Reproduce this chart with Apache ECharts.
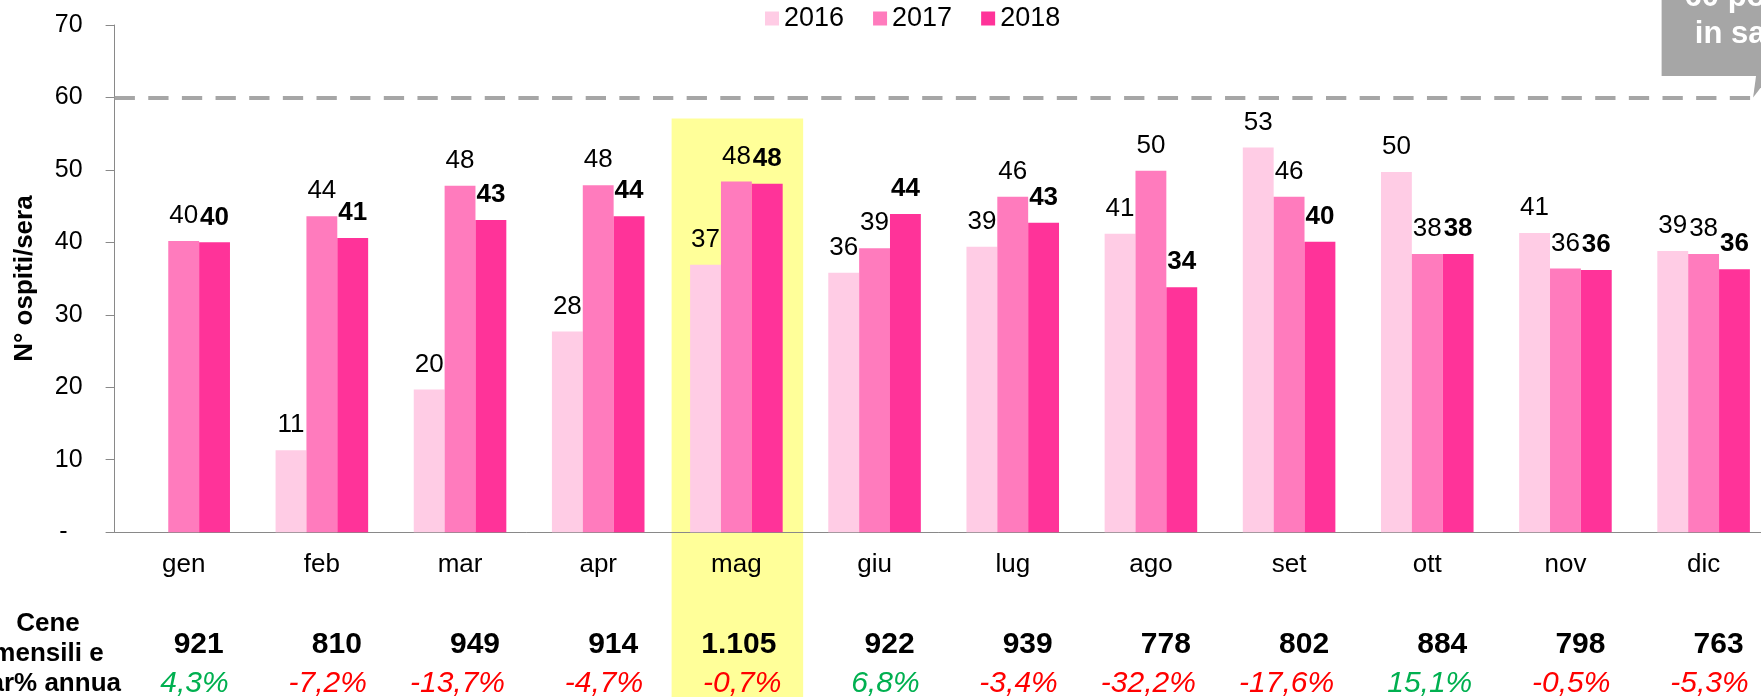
<!DOCTYPE html>
<html>
<head>
<meta charset="utf-8">
<script src="https://cdn.jsdelivr.net/npm/echarts@6/dist/echarts.min.js"></script>
<style>
  html, body { margin: 0; padding: 0; background: #fff; }
  #chart { width: 1761px; height: 697px; }
</style>
</head>
<body>
<div id="chart"></div>
<script>
const FONT = '"Liberation Sans", Arial, sans-serif';

// dati
const months = ['gen', 'feb', 'mar', 'apr', 'mag', 'giu', 'lug', 'ago', 'set', 'ott', 'nov', 'dic'];
const years = ['2016', '2017', '2018'];
const guests2016 = [null, 11.3, 19.7, 27.7, 36.9, 35.8, 39.4, 41.2, 53.1, 49.7, 41.3, 38.8];
const guests2017 = [40.2, 43.6, 47.8, 47.9, 48.4, 39.2, 46.3, 49.9, 46.3, 38.4, 36.4, 38.4];
const guests2018 = [40.0, 40.6, 43.1, 43.6, 48.1, 43.9, 42.7, 33.8, 40.1, 38.4, 36.2, 36.3];
const dinners = ['921', '810', '949', '914', '1.105', '922', '939', '778', '802', '884', '798', '763'];
const yearlyChange = [4.3, -7.2, -13.7, -4.7, -0.7, 6.8, -3.4, -32.2, -17.6, 15.1, -0.5, -5.3];
const capacity = 60;
const capacityText = '60 posti\nin sala';
const highlightMonth = 'mag';

const colors = ['#FFCCE5', '#FF7BBD', '#FF3399'];

function barSeries(name, data, color, bold) {
  return {
    name: name,
    type: 'bar',
    data: data,
    barGap: '0%',
    barCategoryGap: '33%',
    itemStyle: { color: color },
    label: {
      show: true,
      position: 'top',
      distance: 12,
      fontSize: 26,
      fontFamily: FONT,
      color: '#000',
      fontWeight: bold ? 'bold' : 'normal',
      formatter: p => String(Math.round(p.value))
    }
  };
}

const pct = v => v.toFixed(1).replace('.', ',') + '%';

const series = [
  barSeries(years[0], guests2016, colors[0], false),
  barSeries(years[1], guests2017, colors[1], false),
  barSeries(years[2], guests2018, colors[2], true)
];
series[2].markLine = {
  silent: true,
  symbol: 'none',
  label: { show: false },
  lineStyle: { color: '#A6A6A6', width: 4, type: [20.3, 13.35] },
  data: [{ yAxis: capacity }]
};

const option = {
  animation: false,
  textStyle: { fontFamily: FONT },
  grid: { left: 114.6, right: -11.7, top: 25, bottom: 164.8, outerBoundsMode: 'none', containLabel: false },
  legend: {
    data: years,
    left: 765,
    top: 5,
    padding: 0,
    itemWidth: 14,
    itemHeight: 14,
    itemGap: 29,
    icon: 'rect',
    textStyle: { fontSize: 27, color: '#000', fontFamily: FONT }
  },
  xAxis: [
    {
      type: 'category',
      data: months,
      axisLine: { lineStyle: { color: '#898989', width: 1 } },
      axisTick: { length: 8, lineStyle: { color: '#898989' } },
      axisLabel: { interval: 0, fontSize: 26, color: '#000', margin: 20, fontFamily: FONT }
    },
    {
      type: 'category',
      data: months,
      position: 'bottom',
      axisLine: { show: false },
      axisTick: { show: false },
      axisLabel: {
        interval: 0,
        margin: 98,
        formatter: (v, i) => '{n|' + dinners[i] + '}',
        rich: { n: { width: 80, align: 'right', fontSize: 30, fontWeight: 'bold', color: '#000', fontFamily: FONT } }
      }
    },
    {
      type: 'category',
      data: months,
      position: 'bottom',
      axisLine: { show: false },
      axisTick: { show: false },
      axisLabel: {
        interval: 0,
        margin: 136,
        formatter: (v, i) => (yearlyChange[i] > 0 ? '{g|' : '{r|') + pct(yearlyChange[i]) + '}',
        rich: {
          g: { width: 90, align: 'right', fontSize: 30, fontStyle: 'italic', color: '#00B050', fontFamily: FONT },
          r: { width: 90, align: 'right', fontSize: 30, fontStyle: 'italic', color: '#FF0000', fontFamily: FONT }
        }
      }
    }
  ],
  yAxis: {
    type: 'value',
    min: 0,
    max: 70,
    interval: 10,
    splitLine: { show: false },
    axisLine: { show: true, lineStyle: { color: '#898989', width: 1 } },
    axisTick: { show: true, length: 9, lineStyle: { color: '#898989' } },
    axisLabel: {
      fontSize: 25,
      color: '#000',
      margin: 32,
      fontFamily: FONT,
      formatter: v => (v === 0 ? '{z|-}' : String(v)),
      rich: { z: { fontSize: 25, color: '#000', padding: [0, 15, 0, 0], fontFamily: FONT } }
    },
    name: 'N° ospiti/sera',
    nameLocation: 'middle',
    nameGap: 77,
    nameTextStyle: { fontSize: 26, fontWeight: 'bold', color: '#000', fontFamily: FONT }
  },
  series: series
};

const chart = echarts.init(document.getElementById('chart'));
chart.setOption(option);

// evidenziazione mese, riquadro capienza, intestazione tabella
const cx = chart.convertToPixel({ xAxisIndex: 0 }, highlightMonth);
const band = chart.convertToPixel({ xAxisIndex: 0 }, months[1]) - chart.convertToPixel({ xAxisIndex: 0 }, months[0]);
const yTop = chart.convertToPixel({ yAxisIndex: 0 }, 57.1);
const yCap = chart.convertToPixel({ yAxisIndex: 0 }, capacity);
const xLast = chart.convertToPixel({ xAxisIndex: 0 }, months[months.length - 1]);

chart.setOption({
  graphic: [
    {
      type: 'rect',
      z: -10,
      silent: true,
      shape: { x: cx - band * 0.476 + 1, y: yTop, width: band * 0.952, height: 697 - yTop },
      style: { fill: '#FFFF99' }
    },
    {
      type: 'rect',
      z: 10,
      silent: true,
      shape: { x: xLast - 42, y: -60, width: 200, height: yCap - 21.5 + 60 },
      style: { fill: '#A6A6A6' }
    },
    {
      type: 'polygon',
      z: 10,
      silent: true,
      shape: { points: [[xLast + 52.5, yCap - 22], [xLast + 49.5, yCap], [xLast + 66.5, yCap - 22]] },
      style: { fill: '#A6A6A6' }
    },
    {
      type: 'text',
      z: 11,
      silent: true,
      style: {
        text: capacityText,
        x: xLast + 39.5,
        y: yCap - 82,
        align: 'center', verticalAlign: 'middle',
        textAlign: 'center', textVerticalAlign: 'middle',
        lineHeight: 37,
        font: 'bold 31px ' + FONT,
        fill: '#fff'
      }
    },
    {
      type: 'text',
      silent: true,
      style: {
        text: 'Cene\nmensili e\nvar% annua',
        x: 48,
        y: 654,
        align: 'center', verticalAlign: 'middle',
        textAlign: 'center', textVerticalAlign: 'middle',
        lineHeight: 30,
        font: 'bold 26px ' + FONT,
        fill: '#000'
      }
    }
  ]
});
</script>
</body>
</html>
